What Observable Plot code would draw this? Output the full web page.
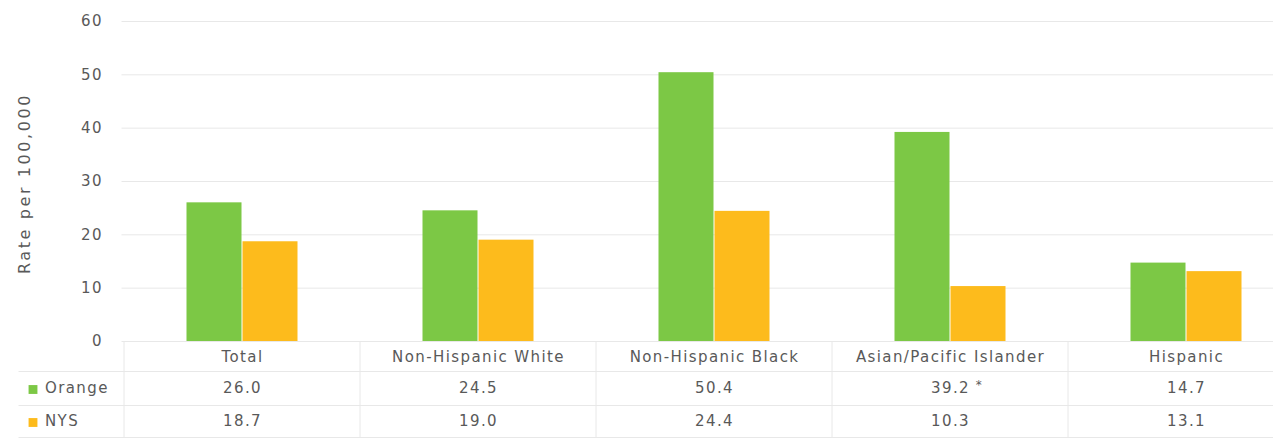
<!DOCTYPE html>
<html>
<head>
<meta charset="utf-8">
<script src="https://cdn.jsdelivr.net/npm/d3@7"></script>
<script src="https://cdn.jsdelivr.net/npm/@observablehq/plot@0.6"></script>
<style>
  html, body { margin: 0; padding: 0; background: #fff; overflow: hidden; }
  #chart svg text { letter-spacing: 1.4px; }
  #chart svg .ylabel text { letter-spacing: 2.6px; }
</style>
</head>
<body>
<div id="chart"></div>
<script>
const categories = ["Total", "Non-Hispanic White", "Non-Hispanic Black", "Asian/Pacific Islander", "Hispanic"];
const orangeValues = [26.0, 24.5, 50.4, 39.2, 14.7];
const nysValues = [18.7, 19.0, 24.4, 10.3, 13.1];
const orangeNotes = ["", "", "", "*", ""];
const seriesNames = ["Orange", "NYS"];
const yTicks = [0, 10, 20, 30, 40, 50, 60];

const green = "#7CC845";
const gold = "#FDBB1C";
const textColor = "#595959";
const lineColor = "#e8e8e8";

const data = categories.map((c, i) => ({
  category: c,
  orange: orangeValues[i],
  nys: nysValues[i],
  note: orangeNotes[i]
}));
const seriesColors = [green, gold];
const rowOffsets = [51, 84];

const legendMarks = seriesNames.flatMap((s, i) => [
  Plot.dot([s], {frameAnchor: "bottom-left", dx: -89, dy: rowOffsets[i] - 3, symbol: "square", r: 5, fill: seriesColors[i], stroke: null}),
  Plot.text([s], {frameAnchor: "bottom-left", dx: -77, dy: rowOffsets[i], text: d => d, textAnchor: "start", fill: textColor, fontSize: 15})
]);

const chart = Plot.plot({
  width: 1273,
  height: 442,
  marginTop: 21,
  marginBottom: 101,
  marginLeft: 121.5,
  marginRight: -33,
  style: {fontFamily: "'DejaVu Sans', sans-serif", fontSize: "15px", color: textColor, background: "#fff"},
  x: {domain: categories, range: [121.5, 1306], padding: 0, axis: null},
  y: {domain: [0, 60], ticks: yTicks, label: null, tickSize: 0, tickPadding: 20},
  marks: [
    Plot.gridY(yTicks, {stroke: lineColor, strokeOpacity: 1}),
    Plot.barY(data, {x: "category", y: "orange", fill: green, insetLeft: 62.5, insetRight: 118.5}),
    Plot.barY(data, {x: "category", y: "nys", fill: gold, insetLeft: 118.5, insetRight: 62.5}),
    Plot.axisY(yTicks, {tickSize: 0, tickPadding: 19, label: null, fill: textColor, fontSize: 15}),
    Plot.text(["Rate per 100,000"], {frameAnchor: "left", textAnchor: "middle", dx: -97, dy: 2, rotate: -90, fill: textColor, fontSize: 16, className: "ylabel"}),
    // table grid
    Plot.ruleY([0], {dy: 30, insetLeft: -103, stroke: lineColor}),
    Plot.ruleY([0], {dy: 64, insetLeft: -103, stroke: lineColor}),
    Plot.ruleY([0], {dy: 96, insetLeft: -103, stroke: lineColor}),
    Plot.ruleX(categories, {x: d => d, dx: -118.5, insetTop: 320, insetBottom: -96, stroke: lineColor}),
    // table text
    Plot.text(data, {x: "category", text: "category", frameAnchor: "bottom", dy: 20, fill: textColor, fontSize: 15}),
    Plot.text(data, {x: "category", text: d => d.orange.toFixed(1), frameAnchor: "bottom", dy: rowOffsets[0], fill: textColor, fontSize: 15}),
    Plot.text(data, {x: "category", text: "note", frameAnchor: "bottom", dy: rowOffsets[0] - 4, dx: 29, fill: textColor, fontSize: 12}),
    Plot.text(data, {x: "category", text: d => d.nys.toFixed(1), frameAnchor: "bottom", dy: rowOffsets[1], fill: textColor, fontSize: 15}),
    ...legendMarks
  ]
});

document.getElementById("chart").appendChild(chart);
</script>
</body>
</html>
